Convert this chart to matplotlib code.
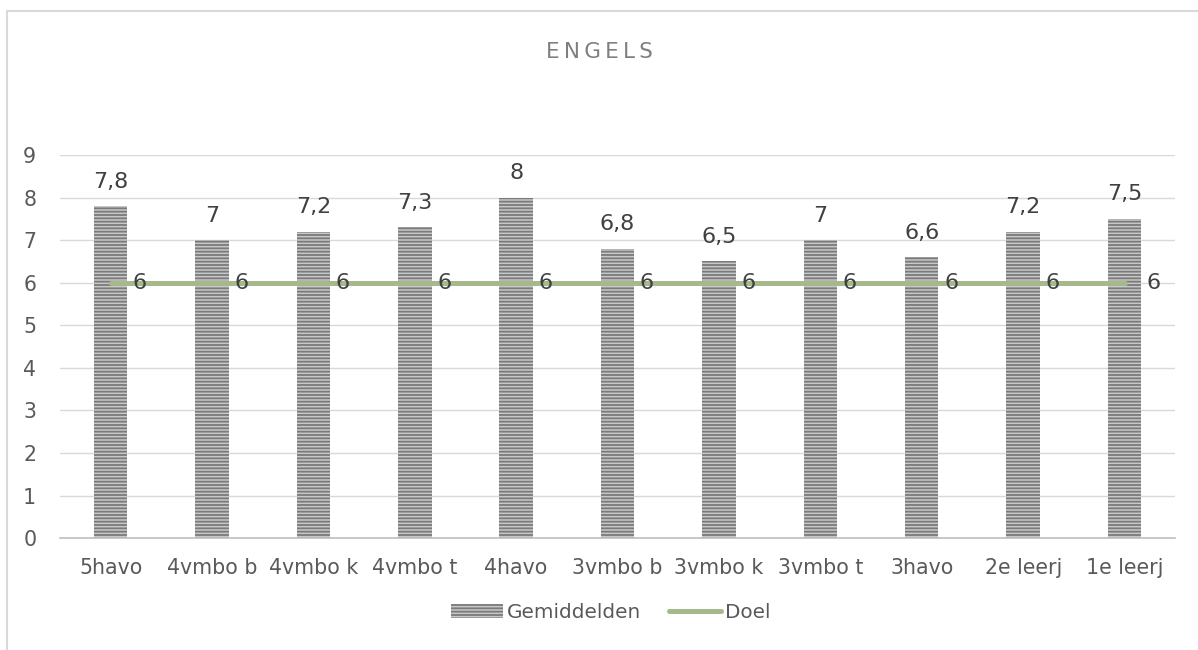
import matplotlib
matplotlib.use("Agg")
import matplotlib.pyplot as plt
from matplotlib.patches import Rectangle
import numpy as np

categories = ["5havo", "4vmbo b", "4vmbo k", "4vmbo t", "4havo", "3vmbo b",
              "3vmbo k", "3vmbo t", "3havo", "2e leerj", "1e leerj"]
gemiddelden = [7.8, 7, 7.2, 7.3, 8, 6.8, 6.5, 7, 6.6, 7.2, 7.5]
doel = [6] * 11
yticks = list(range(0, 10))

plt.rcParams['font.family'] = ['DejaVu Sans']
plt.rcParams['hatch.linewidth'] = 1.3
plt.rcParams['hatch.color'] = '#7a7a7a'

fig = plt.figure(figsize=(11.98, 6.5), dpi=100)
ax = fig.add_axes([0.050, 0.172, 0.931, 0.5895])

x = np.arange(len(categories))
bars = ax.bar(x, gemiddelden, width=0.33, color='#c8c8c8', edgecolor='#7a7a7a',
              linewidth=0, hatch='-----', label='Gemiddelden', zorder=2)
line, = ax.plot(x, doel, color='#a5b98a', linewidth=3.6, solid_capstyle='round',
                label='Doel', zorder=3)

def fmt(v):
    return ('%g' % v).replace('.', ',')

for xi, v in zip(x, gemiddelden):
    ax.text(xi, v + 0.34, fmt(v), ha='center', va='bottom', fontsize=16, color='#404040')
for xi, v in zip(x, doel):
    ax.text(xi + 0.22, v, fmt(v), ha='left', va='center', fontsize=16, color='#404040', zorder=4)

ax.set_xlim(-0.5, len(categories) - 0.5)
ax.set_ylim(0, 9)
ax.set_yticks(yticks)
ax.set_xticks(x)
ax.set_xticklabels(categories)
ax.tick_params(axis='both', length=0, labelsize=14.8, labelcolor='#595959')
ax.tick_params(axis='x', pad=14)
ax.tick_params(axis='y', pad=17)
ax.grid(axis='y', color='#d9d9d9', linewidth=1, zorder=0)
ax.set_axisbelow(True)
for s in ['top', 'right', 'left']:
    ax.spines[s].set_visible(False)
ax.spines['bottom'].set_color('#bfbfbf')
ax.spines['bottom'].set_linewidth(1.2)

fig.text(0.5, 0.92, "E\u2009N\u2009G\u2009E\u2009L\u2009S", ha='center', va='center',
         fontsize=15.5, color='#7f7f7f')

leg = fig.legend(handles=[bars, line], labels=['Gemiddelden', 'Doel'],
                 loc='center', bbox_to_anchor=(0.51, 0.058), ncol=2, frameon=False,
                 fontsize=14.4, handlelength=2.6, columnspacing=1.4, handletextpad=0.2)
for t in leg.get_texts():
    t.set_color('#595959')

fig.patches.append(Rectangle((7/1198, -0.1), 1.2, 1 - 11/650 + 0.1, transform=fig.transFigure,
                             fill=False, edgecolor='#d9d9d9', linewidth=1.5))

fig.savefig("out.png", dpi=100)
